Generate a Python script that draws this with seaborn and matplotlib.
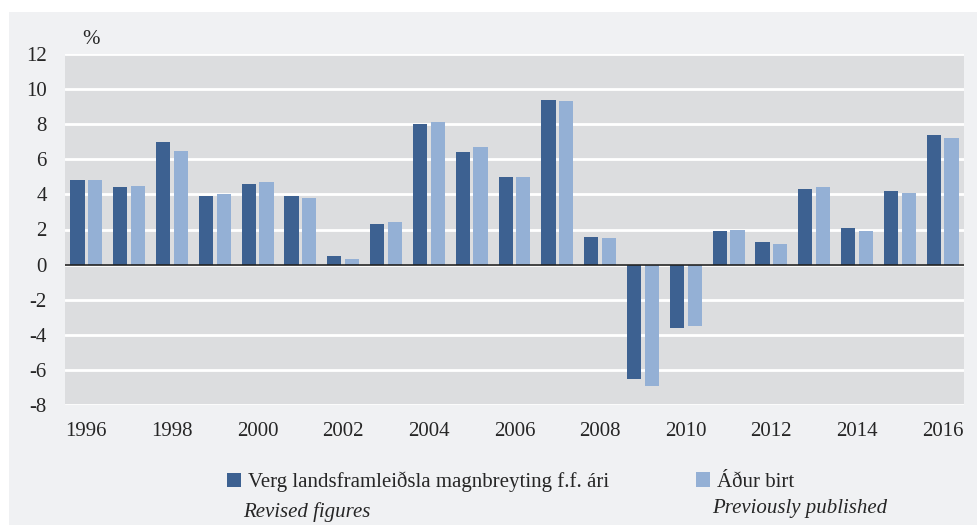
import pandas as pd
import seaborn as sns
import matplotlib.pyplot as plt
from matplotlib.patches import Rectangle, Patch

# Data
years = [str(y) for y in range(1996, 2017)]
revised = [4.8, 4.4, 7.0, 3.9, 4.6, 3.9, 0.5, 2.3, 8.0, 6.4, 5.0,
           9.4, 1.6, -6.5, -3.6, 1.9, 1.3, 4.3, 2.1, 4.2, 7.4]
previous = [4.8, 4.5, 6.5, 4.0, 4.7, 3.8, 0.3, 2.4, 8.1, 6.7, 5.0,
            9.3, 1.5, -6.9, -3.5, 2.0, 1.2, 4.4, 1.9, 4.1, 7.2]
series_names = ["Verg landsframleiðsla magnbreyting f.f. ári", "Áður birt"]
series_sub = ["Revised figures", "Previously published"]
colors = ["#3d6191", "#94b0d5"]
y_ticks = [-8, -6, -4, -2, 0, 2, 4, 6, 8, 10, 12]

df = pd.DataFrame({
    "year": years * 2,
    "value": revised + previous,
    "series": [series_names[0]] * len(years) + [series_names[1]] * len(years),
})

sns.set_style("white")
plt.rcParams['font.family'] = ['Liberation Serif', 'DejaVu Serif']
fs = 15

fig = plt.figure(figsize=(9.8, 5.25), dpi=100, facecolor="white")
fig.patches.append(Rectangle((9 / 980, 0), 968 / 980, 513 / 525,
                             transform=fig.transFigure, facecolor="#f0f1f3",
                             edgecolor="none", zorder=-10))

ax = fig.add_axes([65 / 980, 1 - 405 / 525, 899 / 980, 351 / 525])
ax.set_facecolor("#dcdddf")

sns.barplot(data=df, x="year", y="value", hue="series", palette=colors,
            width=0.83, gap=0.2, saturation=1, ax=ax, legend=False,
            edgecolor="none", zorder=3)

ax.set_ylim(-8, 12)
ax.set_yticks(y_ticks)
ax.set_yticklabels([str(t) for t in y_ticks], fontsize=fs)
ax.yaxis.grid(True, color="white", linewidth=2, zorder=0)
ax.set_axisbelow(True)
ax.axhline(0, color="#222222", linewidth=1.2, zorder=4)

ax.set_xlim(-0.5, len(years) - 0.5)
ax.set_xticks(range(0, len(years), 2))
ax.set_xticklabels(years[::2], fontsize=fs)
ax.tick_params(axis="y", length=0, pad=13)
ax.tick_params(axis="x", length=0, pad=12)
ax.set_xlabel("")
ax.set_ylabel("")
for s in ax.spines.values():
    s.set_visible(False)

fig.text(82 / 980, 1 - 40 / 525, "%", fontsize=fs, va="center", ha="left")

# Legend
handles = [Patch(facecolor=c, edgecolor="none") for c in colors]
fig.legend(handles[:1], series_names[:1], loc="center left",
           bbox_to_anchor=(208 / 980, 1 - 482 / 525), frameon=False,
           fontsize=fs, handlelength=0.7, handleheight=0.7, handletextpad=0.3)
fig.legend(handles[1:], series_names[1:], loc="center left",
           bbox_to_anchor=(677 / 980, 1 - 482 / 525), frameon=False,
           fontsize=fs, handlelength=0.7, handleheight=0.7, handletextpad=0.3)
fig.text(243 / 980, 1 - 512 / 525, series_sub[0], fontsize=fs,
         style="italic", va="center", ha="left")
fig.text(712 / 980, 1 - 509 / 525, series_sub[1], fontsize=fs,
         style="italic", va="center", ha="left")

plt.savefig("out.png", dpi=100, facecolor=fig.get_facecolor())
